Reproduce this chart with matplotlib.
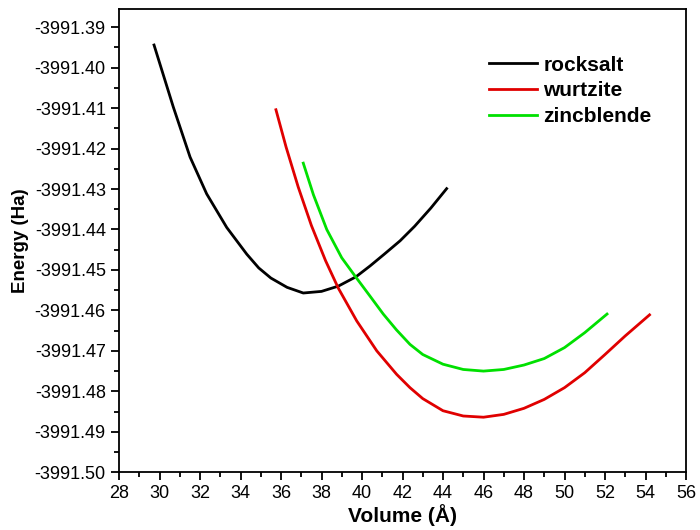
import numpy as np
import matplotlib
matplotlib.use("Agg")
import matplotlib.pyplot as plt
from matplotlib.ticker import MultipleLocator, FormatStrFormatter

plt.rcParams['font.family'] = ['Liberation Sans', 'DejaVu Sans']

# E-V curves (volume, total energy in Ha)
vol_rs = [29.73, 30.68, 31.51, 32.33, 33.32, 34.31, 34.9, 35.5, 36.3, 37.1, 38.0,
          38.83, 39.7, 40.4, 41.1, 41.88, 42.6, 43.4, 44.18]
e_rs = [-3991.3944, -3991.4097, -3991.4221, -3991.4312, -3991.4395, -3991.4461,
        -3991.4495, -3991.4520, -3991.4543, -3991.4557, -3991.4553, -3991.4540,
        -3991.4517, -3991.4490, -3991.4461, -3991.4428, -3991.4392, -3991.4347,
        -3991.4299]

vol_wz = [35.75, 36.25, 36.85, 37.5, 38.2, 38.83, 39.74, 40.73, 41.71, 42.37,
          43, 44, 45, 46, 47, 48, 49, 50, 51, 52, 53, 54.2]
e_wz = [-3991.4104, -3991.4196, -3991.4295, -3991.4390, -3991.4477, -3991.4545,
        -3991.4626, -3991.4700, -3991.4758, -3991.4791, -3991.4818, -3991.4848,
        -3991.4861, -3991.4864, -3991.4857, -3991.4842, -3991.4820, -3991.4791,
        -3991.4754, -3991.4709, -3991.4663, -3991.4611]

vol_zb = [37.1, 37.6, 38.26, 39.0, 39.7, 40.4, 41.05, 41.7, 42.37, 43, 44, 45,
          46, 47, 48, 49, 50, 51, 52.1]
e_zb = [-3991.4236, -3991.4314, -3991.4400, -3991.4470, -3991.4518, -3991.4565,
        -3991.4609, -3991.4648, -3991.4684, -3991.4709, -3991.4733, -3991.4746,
        -3991.4750, -3991.4746, -3991.4735, -3991.4719, -3991.4692, -3991.4655,
        -3991.4609]

fig = plt.figure(figsize=(7, 5.3), dpi=100)
ax = fig.add_axes([0.17, 0.109, 0.81, 0.874])

ax.plot(vol_rs, e_rs, color='black', lw=2, label='rocksalt')
ax.plot(vol_wz, e_wz, color='#e00000', lw=2, label='wurtzite')
ax.plot(vol_zb, e_zb, color='#00e000', lw=2, label='zincblende')

ax.set_xlim(28, 56)
ax.set_ylim(-3991.50, -3991.3855)
ax.xaxis.set_major_locator(MultipleLocator(2))
ax.xaxis.set_minor_locator(MultipleLocator(1))
ax.yaxis.set_major_locator(MultipleLocator(0.01))
ax.yaxis.set_minor_locator(MultipleLocator(0.005))
ax.yaxis.set_major_formatter(FormatStrFormatter('%.2f'))

ax.tick_params(which='major', direction='out', length=6, width=1.3, labelsize=13)
ax.tick_params(which='minor', direction='out', length=3.5, width=1.3)
ax.tick_params(top=False, right=False)
for sp in ax.spines.values():
    sp.set_linewidth(1.3)

ax.set_xlabel('Volume (Å)', fontsize=15, fontweight='bold', labelpad=1)
ax.set_ylabel('Energy (Ha)', fontsize=13.5, fontweight='bold', labelpad=4)

leg = ax.legend(loc='upper left', bbox_to_anchor=(0.62, 0.94), frameon=False,
                prop={'weight': 'bold', 'size': 15}, handlelength=2.3,
                handletextpad=0.3, labelspacing=0.32)

fig.savefig('out.png', dpi=100)
